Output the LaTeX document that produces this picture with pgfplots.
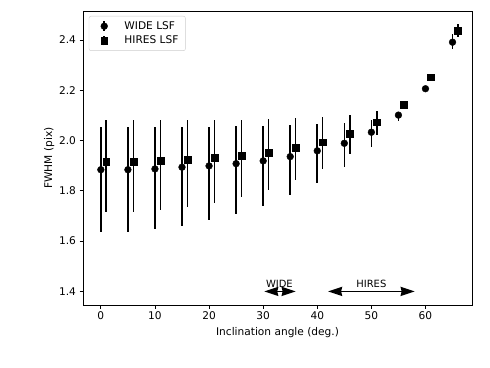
\documentclass[border=0pt]{standalone}
\usepackage{pgfplots}
\pgfplotsset{compat=1.18}
\usepackage{pgfplotstable}
\usepackage{fontspec}
\setmainfont{DejaVu Sans}
\usetikzlibrary{arrows.meta}

% x  y  plus  minus
\pgfplotstableread{
x  y     ep    em
0  1.884 0.171 0.249
5  1.884 0.171 0.246
10 1.887 0.168 0.240
15 1.894 0.161 0.234
20 1.899 0.156 0.217
25 1.908 0.150 0.201
30 1.919 0.139 0.178
35 1.936 0.125 0.152
40 1.959 0.106 0.126
45 1.989 0.082 0.095
50 2.033 0.049 0.060
55 2.101 0.013 0.023
60 2.206 0.005 0.005
65 2.391 0.033 0.027
}\widelsf

\pgfplotstableread{
x  y     ep    em
1  1.916 0.166 0.201
6  1.916 0.166 0.199
11 1.919 0.163 0.195
16 1.924 0.158 0.187
21 1.932 0.150 0.179
26 1.941 0.141 0.166
31 1.953 0.133 0.149
36 1.971 0.118 0.128
41 1.993 0.100 0.106
46 2.026 0.076 0.080
51 2.073 0.046 0.053
56 2.142 0.010 0.010
61 2.252 0.003 0.003
66 2.436 0.026 0.025
}\hireslsf

\tikzset{harrow/.style={{Stealth[length=14bp,width=9bp,inset=1bp]}-{Stealth[length=14bp,width=9bp,inset=1bp]}, line width=1.8bp}}
\newcommand{\lgfont}{\fontsize{10.6bp}{12.7bp}\selectfont}

\begin{document}
\begin{tikzpicture}
\useasboundingbox (0,0) rectangle (490bp,368bp);
\begin{axis}[
    at={(83bp,63bp)}, anchor=south west,
    scale only axis,
    width=389bp, height=294bp,
    xmin=-3.3, xmax=68.6,
    ymin=1.346, ymax=2.515,
    xtick={0,10,...,60},
    ytick={1.4,1.6,...,2.41},
    yticklabel style={/pgf/number format/.cd, fixed, fixed zerofill, precision=1},
    /pgf/number format/assume math mode=true,
    tick align=outside,
    major tick length=3.5bp,
    tick style={black, line width=0.8bp},
    axis line style={line width=0.8bp},
    xtick pos=bottom, ytick pos=left,
    ticklabel style={font=\lgfont},
    label style={font=\lgfont},
    xlabel={Inclination angle (deg.)},
    ylabel={FWHM (pix)},
    xlabel style={yshift=-1bp},
    ylabel style={yshift=-2bp},
    legend style={at={(0.015,0.983)}, anchor=north west, draw=black!20,
        rounded corners=2bp, font=\lgfont,
        nodes={inner sep=0pt, text depth=0.2em, text height=0.8em},
        inner xsep=7bp, inner ysep=4.5bp, row sep=3.5bp,
        /tikz/every odd column/.append style={column sep=4bp}},
    legend cell align=left,
    legend image code/.code={
        \draw[line width=1.6bp] (8bp,-4.7bp) -- (8bp,4.7bp);
        \draw plot coordinates {(8bp,0bp)};
        \path (0bp,0bp) (24bp,0bp);
    },
]
\addplot[only marks, mark=*, mark size=3.4bp, black,
    error bars/.cd, y dir=both, y explicit, error mark=none,
    error bar style={line width=1.6bp}]
    table[x=x, y=y, y error plus=ep, y error minus=em] {\widelsf};
\addlegendentry{WIDE LSF}
\addplot[only marks, mark=square*, mark size=3.4bp, black,
    error bars/.cd, y dir=both, y explicit, error mark=none,
    error bar style={line width=1.6bp}]
    table[x=x, y=y, y error plus=ep, y error minus=em] {\hireslsf};
\addlegendentry{HIRES LSF}

\draw[harrow] (axis cs:30.2,1.4) -- (axis cs:36,1.4);
\draw[harrow] (axis cs:42,1.4) -- (axis cs:58,1.4);
\node[anchor=base, inner sep=0pt] at (axis cs:33,1.417) {WIDE};
\node[anchor=base, inner sep=0pt] at (axis cs:50,1.417) {HIRES};
\end{axis}
\end{tikzpicture}
\end{document}
